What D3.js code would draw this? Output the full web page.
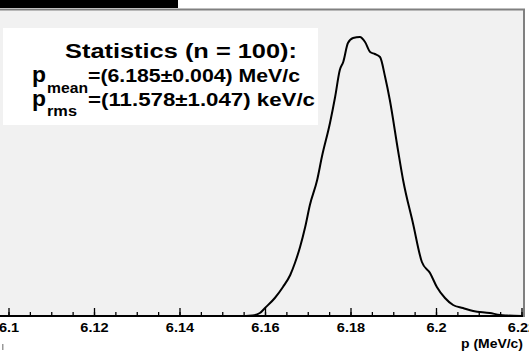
<!DOCTYPE html>
<html>
<head>
<meta charset="utf-8">
<script src="https://cdn.jsdelivr.net/npm/d3@7"></script>
<style>
  body { margin: 0; background: #fff; }
  svg text { font-family: "Liberation Sans", Arial, Helvetica, sans-serif; font-weight: bold; }
</style>
</head>
<body>
<figure id="hist" style="margin:0"></figure>
<script>
// momentum (MeV/c) and smoothed histogram height (arbitrary units)
const pValues = [6.1, 6.154, 6.157, 6.1588, 6.16, 6.1623, 6.1642, 6.1659, 6.167, 6.1682, 6.1694, 6.1705,
  6.1722, 6.1733, 6.1752, 6.1764, 6.1775, 6.1783, 6.1794, 6.1806, 6.1822, 6.1834, 6.1846, 6.1857,
  6.1869, 6.1881, 6.1892, 6.1911, 6.1923, 6.1946, 6.1967, 6.1986, 6.2002, 6.2021, 6.204, 6.2063,
  6.2087, 6.2126, 6.215, 6.2166, 6.22];
const counts = [0, 0, 0.5, 3, 8, 18, 29, 41, 53, 69, 89, 111,
  136, 159, 193, 219, 246, 254, 273, 278, 279, 274, 264, 262,
  259, 239, 216, 166, 136, 93, 54, 43, 29, 18, 11, 8,
  5, 3, 1, 0.5, 0];
const majorTicks = [6.1, 6.12, 6.14, 6.16, 6.18, 6.2, 6.22];
const tickLabels = ["6.1", "6.12", "6.14", "6.16", "6.18", "6.2", "6.22"];
const axisTitle = "p (MeV/c)";
const statsTitle = "Statistics (n = 100):";
const statsRows = [
  { sub: "mean", text: "=(6.185\u00b10.004) MeV/c" },
  { sub: "rms", text: "=(11.578\u00b11.047) keV/c" }
];

const width = 529, height = 353;
const svg = d3.select("figure#hist").append("svg")
  .attr("width", width)
  .attr("height", height);

const x = d3.scaleLinear().domain([6.1, 6.22]).range([8.5, 521.5]);
const y = d3.scaleLinear().domain([0, 306]).range([316, 10]);

// black strip at the top-left
svg.append("rect").attr("x", 0).attr("y", 0).attr("width", 178).attr("height", 8).attr("fill", "#000");

// plot frame
svg.append("rect")
  .attr("x", -5).attr("y", 9.5)
  .attr("width", 529).attr("height", 306.5)
  .attr("fill", "#f1f1f1")
  .attr("stroke", "#808080")
  .attr("stroke-width", 2);

// curve
const line = d3.line()
  .x((d, i) => x(pValues[i]))
  .y(d => y(d))
  .curve(d3.curveMonotoneX);
svg.append("path")
  .datum(counts)
  .attr("d", line)
  .attr("fill", "none")
  .attr("stroke", "#000")
  .attr("stroke-width", 2)
  .attr("stroke-linejoin", "round");

// minor ticks
const minor = d3.range(0, 25).map(i => 6.1 + i * 0.005);
svg.append("g")
  .attr("transform", "translate(0,316)")
  .call(d3.axisBottom(x).tickValues(minor).tickSizeInner(-4).tickSizeOuter(0).tickFormat(""))
  .call(g => g.select(".domain").remove())
  .call(g => g.selectAll("line").attr("stroke", "#000").attr("stroke-width", 1.3));

// major ticks + axis line
const xAxis = svg.append("g")
  .attr("transform", "translate(0,316)")
  .call(d3.axisBottom(x).tickValues(majorTicks).tickSizeInner(-8).tickSizeOuter(0)
    .tickFormat((d, i) => tickLabels[i]));
xAxis.select(".domain").remove();
xAxis.selectAll("line").attr("stroke", "#000").attr("stroke-width", 1.3);
xAxis.selectAll("text")
  .attr("y", null).attr("dy", null)
  .attr("fill", "#000")
  .style("font-size", "13px")
  .attr("transform", "translate(0,16) scale(1.12,1)");
svg.append("line")
  .attr("x1", 0).attr("x2", 523).attr("y1", 316).attr("y2", 316)
  .attr("stroke", "#000").attr("stroke-width", 2);

svg.append("text")
  .attr("x", 523).attr("y", 348)
  .attr("text-anchor", "end")
  .style("font-size", "13px")
  .attr("textLength", 62).attr("lengthAdjust", "spacingAndGlyphs")
  .text(axisTitle);

// small mark at bottom-left
svg.append("rect").attr("x", 2).attr("y", 344).attr("width", 1.5).attr("height", 6).attr("fill", "#999");

// statistics box
svg.append("rect")
  .attr("x", 3).attr("y", 28).attr("width", 315).attr("height", 97)
  .attr("fill", "#fff");

svg.append("text")
  .attr("x", 65).attr("y", 58)
  .style("font-size", "20px")
  .attr("textLength", 232).attr("lengthAdjust", "spacingAndGlyphs")
  .text(statsTitle);

const rowBase = [82, 106];
const subBase = [93, 116];
const subLen = [41, 30];
const textLen = [212, 227];
statsRows.forEach((r, i) => {
  svg.append("text")
    .attr("x", 32).attr("y", rowBase[i])
    .style("font-size", "22px")
    .attr("textLength", 14).attr("lengthAdjust", "spacingAndGlyphs")
    .text("p");
  svg.append("text")
    .attr("x", 47).attr("y", subBase[i])
    .style("font-size", "15px")
    .attr("textLength", subLen[i]).attr("lengthAdjust", "spacingAndGlyphs")
    .text(r.sub);
  svg.append("text")
    .attr("x", 88).attr("y", rowBase[i])
    .style("font-size", "18.5px")
    .attr("textLength", textLen[i]).attr("lengthAdjust", "spacingAndGlyphs")
    .text(r.text);
});
</script>
</body>
</html>
